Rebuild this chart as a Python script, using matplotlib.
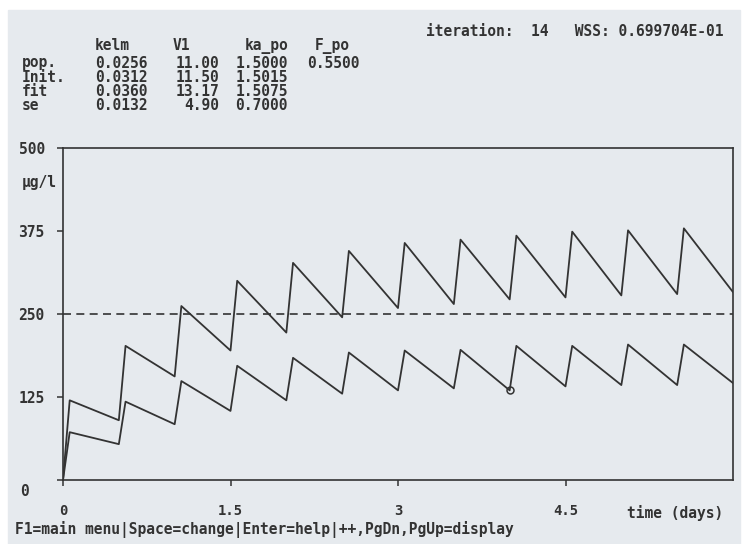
import matplotlib
matplotlib.use("Agg")
import matplotlib.pyplot as plt
from matplotlib.patches import Rectangle

# dosing every 12 h, troughs at dose times, peaks shortly after
dose_times = [0.0, 0.5, 1.0, 1.5, 2.0, 2.5, 3.0, 3.5, 4.0, 4.5, 5.0, 5.5]
peak_lag = 0.06
t_end = 6.0

fit_peaks = [120, 202, 262, 300, 327, 345, 357, 362, 368, 374, 376, 379]
fit_troughs = [0, 90, 156, 195, 222, 245, 259, 265, 272, 275, 278, 280]
fit_end = 283

pop_peaks = [72, 118, 149, 172, 184, 192, 195, 196, 202, 202, 204, 204]
pop_troughs = [0, 54, 84, 104, 120, 130, 135, 138, 135, 141, 143, 143]
pop_end = 146

obs_t = [4.0]
obs_c = [135]

target_level = 250

# parameter table
param_names = ["kelm", "V1", "ka_po", "F_po"]
row_names = ["pop.", "Init.", "fit", "se"]
kelm_vals = ["0.0256", "0.0312", "0.0360", "0.0132"]
v1_vals = ["11.00", "11.50", "13.17", "4.90"]
ka_vals = ["1.5000", "1.5015", "1.5075", "0.7000"]
f_vals = ["0.5500", "", "", ""]

iteration = 14
wss = "0.699704E-01"

yticks = [0, 125, 250, 375, 500]
xticks = [0, 1.5, 3, 4.5]
xtick_labels = ["0", "1.5", "3", "4.5"]


def sawtooth(peaks, troughs, end_val):
    t, c = [], []
    for d, tr, pk in zip(dose_times, troughs, peaks):
        t += [d, d + peak_lag]
        c += [tr, pk]
    t.append(t_end)
    c.append(end_val)
    return t, c


W, H = 746, 544
plt.rcParams["font.family"] = ["DejaVu Sans Mono"]
plt.rcParams["font.weight"] = "bold"
ink = "#333333"
bg = "#e6eaee"

fig = plt.figure(figsize=(W / 100, H / 100), dpi=100, facecolor="white")
fig.patches.append(Rectangle((8 / W, 0), 732 / W, 1 - 10 / H,
                             transform=fig.transFigure, color=bg, zorder=-10))


def px(x, y, s, **kw):
    kw.setdefault("va", "center")
    kw.setdefault("fontsize", 10.5)
    fig.text(x / W, 1 - y / H, s, color=ink, **kw)


ax = fig.add_axes([63 / W, 1 - 480 / H, 670 / W, 332 / H])
ax.set_facecolor(bg)

ft, fc = sawtooth(fit_peaks, fit_troughs, fit_end)
pt, pc = sawtooth(pop_peaks, pop_troughs, pop_end)
ax.plot(ft, fc, color=ink, lw=1.3, solid_joinstyle="round")
ax.plot(pt, pc, color=ink, lw=1.3, solid_joinstyle="round")
ax.plot(obs_t, obs_c, "o", mfc="none", mec=ink, ms=5, mew=1.1)
ax.axhline(target_level, color=ink, lw=1.2, ls=(0, (4.8, 3.2)))

ax.set_xlim(0, t_end)
ax.set_ylim(0, 500)
for s in ax.spines.values():
    s.set_color(ink)
    s.set_linewidth(1.2)

ax.set_xticks(xticks)
ax.set_xticklabels(xtick_labels)
ax.set_yticks(yticks)
ax.set_yticklabels([""] + [str(v) for v in yticks[1:]], ha="left")
ax.tick_params(axis="x", direction="out", length=4, width=1.1, color=ink,
               labelsize=10, labelcolor=ink, pad=13)
ax.tick_params(axis="y", direction="out", length=4, width=1.1, color=ink,
               labelsize=10.5, labelcolor=ink, pad=28)

px(20, 492, "0")
px(22, 183, "μg/l")
px(723, 513, "time (days)", ha="right")

# header block
px(426, 31, f"iteration:  {iteration}   WSS: {wss}")
for name, x in zip(param_names, [95, 173, 245, 315]):
    px(x, 46, name)
rows_y = [63, 77, 91, 105]
for i, (rn, y) in enumerate(zip(row_names, rows_y)):
    px(22, y, rn)
    px(148, y, kelm_vals[i], ha="right")
    px(219, y, v1_vals[i], ha="right")
    px(288, y, ka_vals[i], ha="right")
    px(360, y, f_vals[i], ha="right")

px(15, 530, "F1=main menu|Space=change|Enter=help|++,PgDn,PgUp=display")

fig.savefig("out.png", dpi=100, facecolor=fig.get_facecolor())
